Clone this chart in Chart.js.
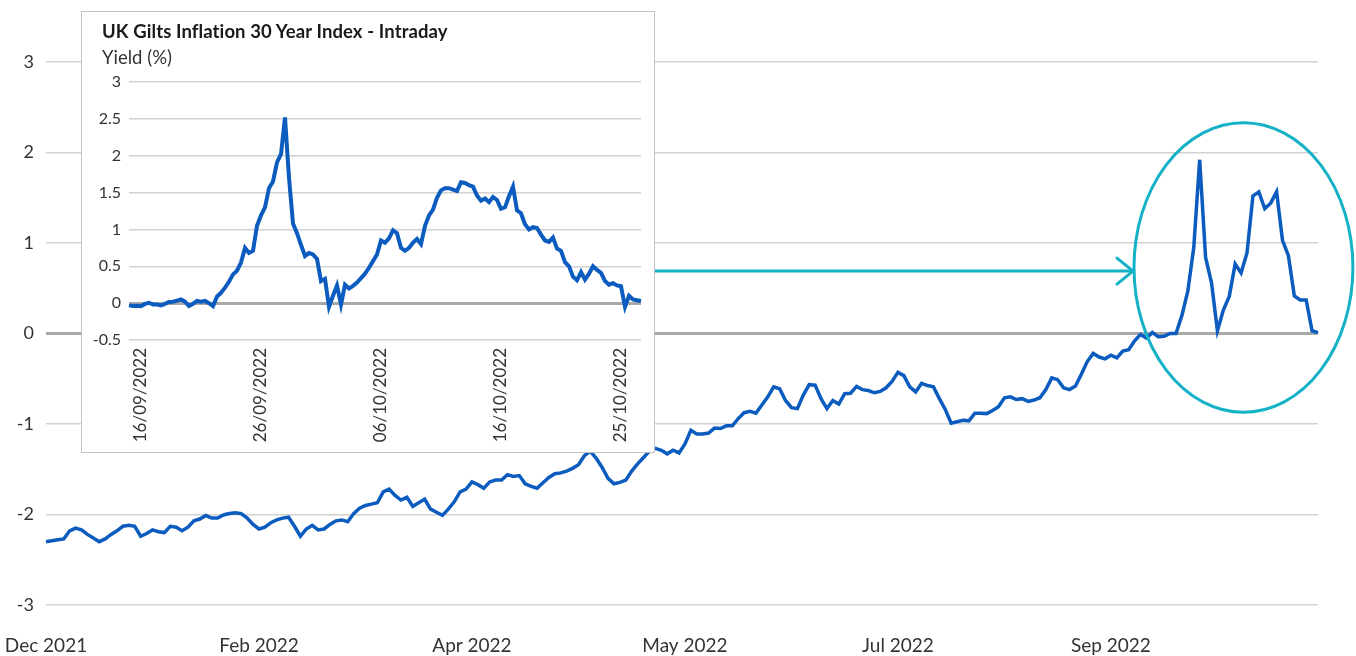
<!DOCTYPE html>
<html>
<head>
<meta charset="utf-8">
<script src="https://cdn.jsdelivr.net/npm/chart.js@4/dist/chart.umd.min.js"></script>
<style>
  html, body { margin: 0; padding: 0; background: #fff; }
  #page { position: relative; width: 1356px; height: 656px; font-family: Lato, sans-serif; }
  #main-box { position: absolute; left: 0; top: 0; width: 1356px; height: 656px; }
  #inset-box { position: absolute; left: 81px; top: 11px; width: 572px; height: 440px;
    border: 1px solid #c4c4c4; background: #fff; }
  #inset-box canvas { position: absolute; left: 0; top: 0; }
  .inset-title { position: absolute; left: 20px; top: 8px; font-size: 18.5px; line-height: 22px;
    font-weight: bold; color: #1a1a1a; white-space: nowrap; letter-spacing: 0.1px; }
  .inset-unit { position: absolute; left: 20px; top: 34px; font-size: 18.5px; line-height: 22px;
    color: #333; white-space: nowrap; }
</style>
</head>
<body>
<div id="page">
  <div id="main-box"><canvas id="main-chart"></canvas></div>
  <div id="inset-box">
    <canvas id="inset-chart"></canvas>
    <div class="inset-title">UK Gilts Inflation 30 Year Index - Intraday</div>
    <div class="inset-unit">Yield (%)</div>
  </div>
</div>
<script>
// daily yield, Dec 2021 - Oct 2022
const mainYield = [
  -2.30, -2.29, -2.28, -2.27, -2.18, -2.15, -2.17, -2.22, -2.26, -2.30,
  -2.27, -2.22, -2.18, -2.13, -2.12, -2.13, -2.24, -2.21, -2.17, -2.19,
  -2.20, -2.13, -2.14, -2.18, -2.14, -2.07, -2.05, -2.01, -2.04, -2.04,
  -2.005, -1.99, -1.98, -1.99, -2.04, -2.11, -2.16, -2.14, -2.09, -2.06,
  -2.04, -2.03, -2.13, -2.24, -2.16, -2.12, -2.17, -2.16, -2.11, -2.07,
  -2.06, -2.08, -1.99, -1.93, -1.90, -1.885, -1.87, -1.75, -1.72, -1.79,
  -1.84, -1.81, -1.91, -1.87, -1.83, -1.94, -1.975, -2.01, -1.94, -1.86,
  -1.75, -1.72, -1.64, -1.67, -1.71, -1.64, -1.62, -1.62, -1.56, -1.58,
  -1.57, -1.66, -1.69, -1.71, -1.65, -1.59, -1.55, -1.54, -1.52, -1.49,
  -1.45, -1.35, -1.30, -1.38, -1.48, -1.60, -1.66, -1.645, -1.62, -1.52,
  -1.44, -1.37, -1.30, -1.27, -1.29, -1.33, -1.29, -1.32, -1.22, -1.07,
  -1.11, -1.11, -1.10, -1.045, -1.05, -1.02, -1.02, -0.94, -0.875, -0.86,
  -0.88, -0.79, -0.70, -0.59, -0.61, -0.74, -0.82, -0.83, -0.68, -0.565,
  -0.57, -0.72, -0.83, -0.74, -0.78, -0.665, -0.66, -0.585, -0.62, -0.63,
  -0.655, -0.64, -0.60, -0.53, -0.43, -0.465, -0.59, -0.645, -0.55, -0.575,
  -0.59, -0.72, -0.84, -0.99, -0.975, -0.96, -0.965, -0.88, -0.88, -0.885,
  -0.85, -0.81, -0.71, -0.70, -0.73, -0.72, -0.75, -0.735, -0.71, -0.62,
  -0.49, -0.51, -0.60, -0.62, -0.58, -0.45, -0.31, -0.22, -0.26, -0.28,
  -0.24, -0.27, -0.195, -0.18, -0.08, -0.01, -0.05, 0.01, -0.035, -0.03,
  0.00, 0.00, 0.20, 0.47, 0.95, 1.92, 0.84, 0.56, 0.03, 0.26,
  0.41, 0.77, 0.67, 0.89, 1.52, 1.565, 1.38, 1.44, 1.565, 1.03,
  0.86, 0.415, 0.37, 0.37, 0.03, 0.01
];
const mainTickLabels = ["Dec 2021", "Feb 2022", "Apr 2022", "May 2022", "Jul 2022", "Sep 2022"];
const mainTickEvery = 36;

// intraday yield, 16/09/2022 - 26/10/2022
const intradayYield = [
  -0.03, -0.04, -0.035, -0.04, -0.01, 0.005, -0.02, -0.02, -0.03, -0.01,
  0.015, 0.02, 0.035, 0.05, 0.02, -0.04, -0.01, 0.03, 0.02, 0.03,
  0.0, -0.04, 0.09, 0.14, 0.21, 0.29, 0.39, 0.44, 0.55, 0.75,
  0.68, 0.71, 1.05, 1.19, 1.30, 1.56, 1.65, 1.91, 2.02, 2.52,
  1.70, 1.08, 0.95, 0.79, 0.64, 0.68, 0.66, 0.60, 0.30, 0.33,
  -0.05, 0.10, 0.24, -0.02, 0.25, 0.20, 0.235, 0.28, 0.34, 0.40,
  0.48, 0.57, 0.66, 0.85, 0.82, 0.88, 0.99, 0.95, 0.75, 0.71,
  0.75, 0.82, 0.87, 0.80, 1.05, 1.19, 1.27, 1.43, 1.53, 1.56,
  1.56, 1.54, 1.52, 1.64, 1.63, 1.60, 1.58, 1.46, 1.39, 1.42,
  1.37, 1.44, 1.40, 1.28, 1.30, 1.45, 1.58, 1.26, 1.22, 1.07,
  1.00, 1.03, 1.02, 0.93, 0.85, 0.83, 0.89, 0.74, 0.71, 0.555,
  0.50, 0.36, 0.31, 0.42, 0.32, 0.40, 0.50, 0.45, 0.41, 0.30,
  0.25, 0.27, 0.24, 0.23, -0.05, 0.10, 0.05, 0.04, 0.03
];
const intradayTickLabels = ["16/09/2022", "26/09/2022", "06/10/2022", "16/10/2022", "25/10/2022"];
const intradayTickIndex = [3, 33, 63, 93, 123];

// highlight ring around the intraday period (category index / yield units)
const ring = { index: 202.4, value: 0.73, halfIndex: 18.5, halfValue: 1.6 };
const arrowValue = 0.69;

const BLUE = "#0b5cbe";
const TEAL = "#14b1c7";
const FONT = "Lato";
const TEXT = "#333333";

const gridColor = (ctx) => (ctx.tick && ctx.tick.value === 0 ? "#a8a8a8" : "#d2d2d2");
const gridWidth = (ctx) => (ctx.tick && ctx.tick.value === 0 ? 3 : 1.5);
// stop Chart.js reserving room for the first/last x label
const noSidePadding = (h) => (s) => { s.height = h; s.paddingLeft = 0; s.paddingRight = 0; };

const ringPlugin = {
  id: "ring",
  afterDatasetsDraw(chart) {
    const { ctx, scales: { x, y } } = chart;
    const cx = x.getPixelForValue(ring.index);
    const cy = y.getPixelForValue(ring.value);
    const rx = x.getPixelForValue(ring.index + ring.halfIndex) - cx;
    const ry = y.getPixelForValue(ring.value - ring.halfValue) - cy;
    ctx.save();
    ctx.strokeStyle = TEAL;
    ctx.lineWidth = 3;
    ctx.beginPath();
    ctx.ellipse(cx, cy, rx, ry, 0, 0, Math.PI * 2);
    ctx.stroke();

    // arrow from the inset to the ring
    const ay = y.getPixelForValue(arrowValue);
    const tip = cx - rx;
    ctx.lineCap = "round";
    ctx.beginPath();
    ctx.moveTo(640, ay);
    ctx.lineTo(tip - 1, ay);
    ctx.stroke();
    ctx.beginPath();
    ctx.moveTo(tip - 17, ay - 13);
    ctx.lineTo(tip - 1, ay);
    ctx.lineTo(tip - 17, ay + 13);
    ctx.stroke();
    ctx.restore();
  },
};

new Chart(document.getElementById("main-chart"), {
  type: "line",
  data: {
    labels: mainYield.map((_, i) => i),
    datasets: [{
      data: mainYield,
      borderColor: BLUE,
      borderWidth: 3.5,
      pointRadius: 0,
      tension: 0,
    }],
  },
  options: {
    responsive: true,
    maintainAspectRatio: false,
    animation: false,
    layout: { padding: { top: 62, right: 38, left: 0, bottom: 0 } },
    plugins: { legend: { display: false }, tooltip: { enabled: false } },
    scales: {
      x: {
        offset: false,
        grid: { display: false, drawTicks: false },
        border: { display: false },
        ticks: {
          autoSkip: false,
          maxRotation: 0,
          minRotation: 0,
          padding: 29,
          color: TEXT,
          font: { family: FONT, size: 19 },
          callback: (v, i) => (i % mainTickEvery === 0 ? mainTickLabels[i / mainTickEvery] : ""),
        },
        afterFit: noSidePadding(51),
      },
      y: {
        min: -3,
        max: 3,
        border: { display: false },
        grid: { color: gridColor, lineWidth: gridWidth, drawTicks: false },
        ticks: { stepSize: 1, padding: 12, color: TEXT, font: { family: FONT, size: 18 } },
        afterFit: (s) => { s.width = 46; },
      },
    },
  },
  plugins: [ringPlugin],
});

new Chart(document.getElementById("inset-chart"), {
  type: "line",
  data: {
    labels: intradayYield.map((_, i) => i),
    datasets: [{
      data: intradayYield,
      borderColor: BLUE,
      borderWidth: 4,
      pointRadius: 0,
      tension: 0,
    }],
  },
  options: {
    responsive: true,
    maintainAspectRatio: false,
    animation: false,
    layout: { padding: { top: 70, right: 13, left: 0, bottom: 0 } },
    plugins: { legend: { display: false }, tooltip: { enabled: false } },
    scales: {
      x: {
        offset: false,
        grid: { display: false, drawTicks: false },
        border: { display: false },
        ticks: {
          autoSkip: false,
          maxRotation: 90,
          minRotation: 90,
          padding: 8,
          color: TEXT,
          font: { family: FONT, size: 17 },
          callback: (v, i) => {
            const k = intradayTickIndex.indexOf(i);
            return k >= 0 ? intradayTickLabels[k] : "";
          },
        },
        afterFit: noSidePadding(112),
      },
      y: {
        min: -0.5,
        max: 3,
        border: { display: false },
        grid: { color: gridColor, lineWidth: gridWidth, drawTicks: false },
        ticks: {
          stepSize: 0.5,
          padding: 8,
          color: TEXT,
          font: { family: FONT, size: 16 },
          callback: (v) => String(v),
        },
        afterFit: (s) => { s.width = 47; },
      },
    },
  },
});
</script>
</body>
</html>
